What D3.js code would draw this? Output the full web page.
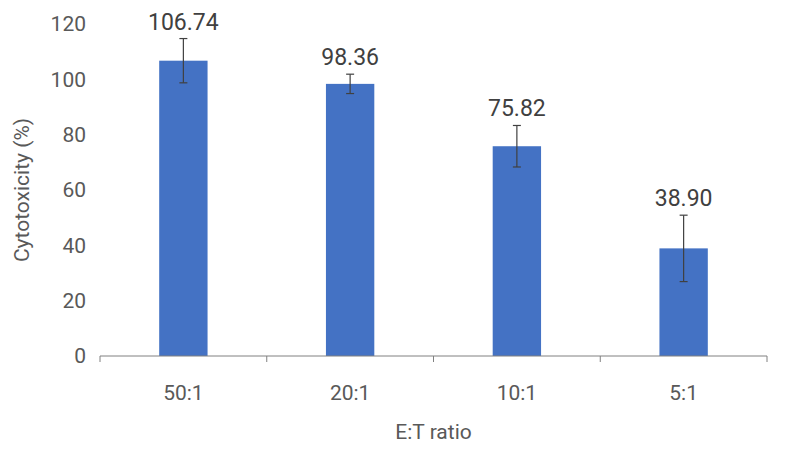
<!DOCTYPE html>
<html><head><meta charset="utf-8">
<script src="https://cdn.jsdelivr.net/npm/d3@7"></script>
<style>body{margin:0;background:#fff}text{font-family:Roboto,sans-serif}</style>
</head><body><svg id="c" width="792" height="451"></svg>
<script>
var categories = ["50:1", "20:1", "10:1", "5:1"];
var values = [106.74, 98.36, 75.82, 38.90];
var errors = [8, 3.5, 7.5, 12];
var yTicks = [0, 20, 40, 60, 80, 100, 120];

var svg = d3.select("#c");
var m = {left: 100, right: 25, top: 24, bottom: 95};
var w = 792 - m.left - m.right, h = 451 - m.top - m.bottom;
var g = svg.append("g").attr("transform", "translate(" + m.left + "," + m.top + ")");

var x = d3.scaleBand().domain(categories).range([0, w]).paddingInner(0.71).paddingOuter(0.355);
var y = d3.scaleLinear().domain([0, 120]).range([h, 0]);
var grey = "#595959";

// y axis
var ya = g.append("g").call(d3.axisLeft(y).tickValues(yTicks).tickSize(0).tickPadding(14));
ya.select(".domain").remove();
ya.selectAll("text").attr("fill", grey).style("font-size", "21px");

// bars
g.selectAll("rect.bar").data(values).enter().append("rect")
    .attr("x", function(d, i) { return x(categories[i]); })
    .attr("y", function(d) { return y(d); })
    .attr("width", x.bandwidth())
    .attr("height", function(d) { return h - y(d); })
    .attr("fill", "#4472c4");

// error bars
values.forEach(function(v, i) {
    var cx = x(categories[i]) + x.bandwidth() / 2;
    var eb = g.append("g").attr("stroke", "#404040").attr("stroke-width", 1.2);
    eb.append("line").attr("x1", cx).attr("x2", cx).attr("y1", y(v + errors[i])).attr("y2", y(v - errors[i]));
    eb.append("line").attr("x1", cx - 4).attr("x2", cx + 4).attr("y1", y(v + errors[i])).attr("y2", y(v + errors[i]));
    eb.append("line").attr("x1", cx - 4).attr("x2", cx + 4).attr("y1", y(v - errors[i])).attr("y2", y(v - errors[i]));
    g.append("text").attr("x", cx).attr("y", y(v + errors[i]) - 9)
        .attr("text-anchor", "middle").attr("fill", "#404040").style("font-size", "23px")
        .text(v.toFixed(2));
});

// x axis
g.append("line").attr("x1", 0).attr("x2", w).attr("y1", h).attr("y2", h).attr("stroke", "#808080");
var step = w / categories.length;
d3.range(categories.length + 1).forEach(function(i) {
    g.append("line").attr("x1", i * step).attr("x2", i * step).attr("y1", h).attr("y2", h + 6).attr("stroke", "#808080");
});
categories.forEach(function(c) {
    g.append("text").attr("x", x(c) + x.bandwidth() / 2).attr("y", h + 44)
        .attr("text-anchor", "middle").attr("fill", grey).style("font-size", "21px").text(c);
});

svg.append("text").attr("x", m.left + w / 2).attr("y", 439).attr("text-anchor", "middle")
    .attr("fill", grey).style("font-size", "21px").text("E:T ratio");
svg.append("text").attr("transform", "translate(29," + (m.top + h / 2) + ") rotate(-90)")
    .attr("text-anchor", "middle").attr("fill", grey).style("font-size", "21px").text("Cytotoxicity (%)");
</script></body></html>
